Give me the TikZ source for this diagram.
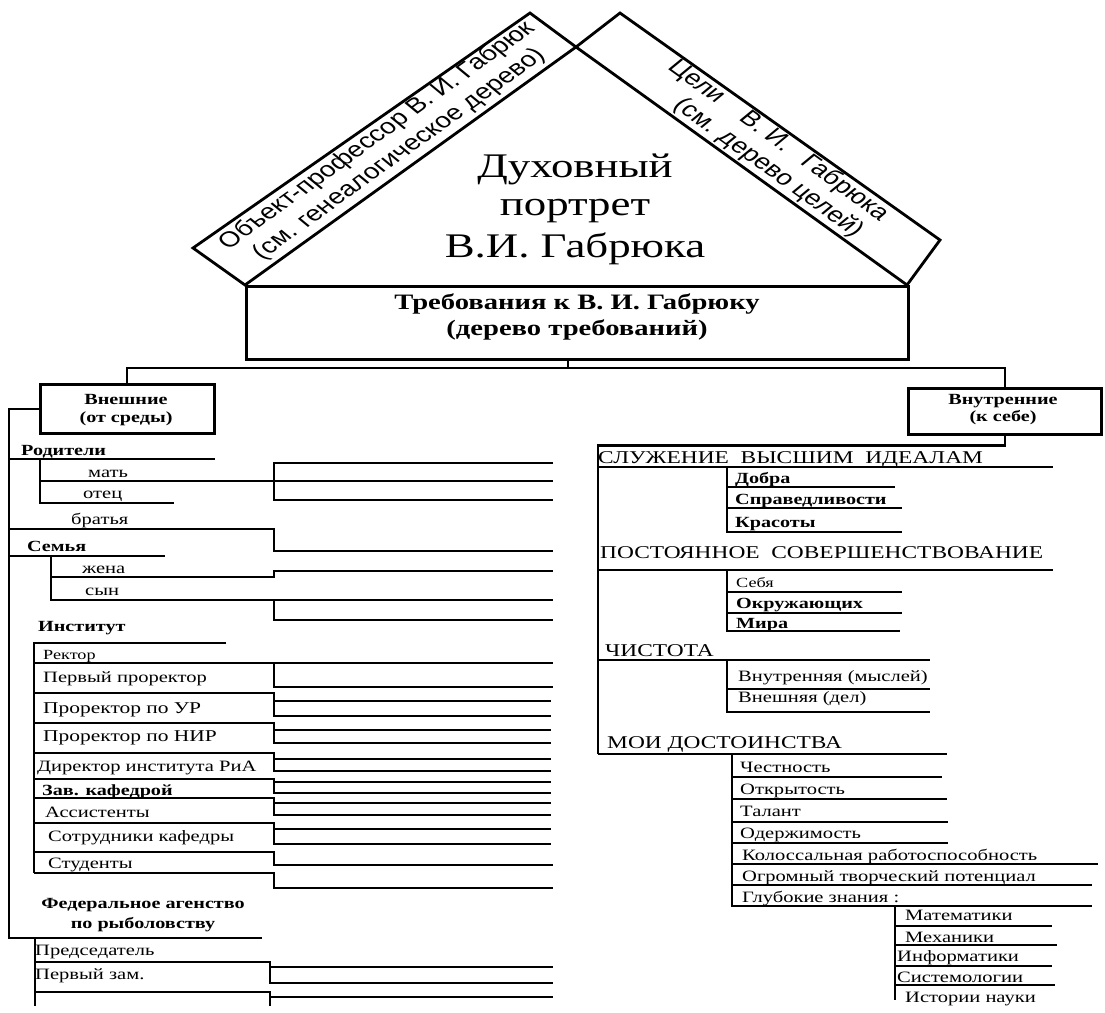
\documentclass[tikz,border=0pt]{standalone}
\usepackage{fontspec}
\setmainfont{Liberation Serif}[FakeStretch=1.3]
\newfontfamily\bandfont{Liberation Sans}
\begin{document}
\begin{tikzpicture}[x=1pt,y=-1pt,
  ln/.style={line width=2.2pt},
  thk/.style={line width=2.8pt},
  box/.style={draw, line width=2.5pt, inner sep=0pt},
  t/.style={anchor=base west, inner sep=0pt, font=\fontsize{15.8}{18}\selectfont},
  ts/.style={t, font=\fontsize{14}{16}\selectfont},
  tl/.style={t, font=\fontsize{16.5}{19}\selectfont},
  tb/.style={t, font=\bfseries\fontsize{15.5}{18}\selectfont},
  tbc/.style={tb, anchor=base},
  capt/.style={t, font=\fontsize{18}{20}\selectfont},
  big/.style={anchor=base, inner sep=0pt, font=\fontsize{34.5}{40}\selectfont},
  req/.style={anchor=base, inner sep=0pt, font=\bfseries\fontsize{22}{25}\selectfont},
  band/.style={anchor=center, inner sep=0pt, align=center, font=\bandfont\fontsize{21.5}{25}\selectfont}]
\fill[white] (0,0) rectangle (1105,1012);
\useasboundingbox (0,0) rectangle (1105,1012);

% roof
\coordinate (A) at (245,285);
\coordinate (B) at (193,248);
\coordinate (C) at (530,13);
\coordinate (D) at (576,47);
\coordinate (E) at (620,13);
\coordinate (F) at (940,240);
\coordinate (G) at (907,285);
\draw[thk, line join=miter] (A) -- (B) -- (C) -- (D) -- cycle;
\draw[thk, line join=miter] (D) -- (E) -- (F) -- (G) -- cycle;
\node[band, xscale=1.3, rotate=43] (bl) at (388,145) {Объект-профессор В. И. Габрюк\\(см. генеалогическое дерево)};
\node[band, xscale=1.3, rotate=-43] (br) at (767,150) {Цели\hspace{0.8em} В. И.\hspace{0.5em} Габрюка\\\hspace{1.2em}(см. дерево целей)};
\node[big] (t1) at (575,177) {Духовный};
\node[big] (t2) at (575,215) {портрет};
\node[big] (t3) at (575,257) {В.И. Габрюка};

% boxes
\node[box, minimum width=662pt, minimum height=73pt, anchor=north west] (req) at (245,285) {};
\node[req] (rq1) at (577,309) {Требования к В. И. Габрюку};
\node[req] (rq2) at (577,335) {(дерево требований)};
\node[box, minimum width=174pt, minimum height=49pt, anchor=north west] (ext) at (39,383) {};
\node[tbc] (ex1) at (126,404) {Внешние};
\node[tbc] (ex2) at (126,422) {(от среды)};
\node[box, minimum width=193pt, minimum height=46pt, anchor=north west] (int) at (907,387) {};
\node[tbc] (in1) at (1003,404) {Внутренние};
\node[tbc] (in2) at (1003,421) {(к себе)};

\coordinate (busM) at (568,368);
\draw[ln] (busM |- req.south) -- (busM);
\draw[ln] (ext.north) -- (ext.north |- busM) -- (int.north |- busM) -- (int.north);

% left tree
\draw[ln] (ext.west) -- ++(-30,0) -- (9,938) -- (262,938);
\draw[ln] (9,459) -- (215,459);
\draw[ln] (40,459) -- (40,503) -- (174,503);
\draw[ln] (40,481) -- (553,481);
\draw[ln] (553,463) -- (274,463) -- (274,500) -- (553,500);
\draw[ln] (9,529) -- (274,529) -- (274,551) -- (553,551);
\draw[ln] (9,556) -- (165,556);
\draw[ln] (51,556) -- (51,600) -- (553,600);
\draw[ln] (51,577) -- (274,577) -- (274,571) -- (553,571);
\draw[ln] (274,600) -- (274,620) -- (553,620);
\draw[ln] (226,643) -- (34,643) -- (34,873);
\draw[ln] (34,663) -- (553,663);
\draw[ln] (274,663) -- (274,687) -- (553,687);
\foreach \yt/\ya/\yb in {693/701/716, 723/730/743, 753/759/771, 779/782/793, 798/803/815, 823/829/844} {
  \draw[ln] (34,\yt) -- (274,\yt) -- (274,\yb) -- (551,\yb);
  \draw[ln] (274,\ya) -- (551,\ya);
}
\draw[ln] (34,852) -- (274,852) -- (274,865) -- (553,865);
\draw[ln] (34,873) -- (274,873) -- (274,888) -- (553,888);
\draw[ln] (35,938) -- (35,1006);
\draw[ln] (35,962) -- (270,962) -- (270,983) -- (553,983);
\draw[ln] (270,967) -- (553,967);
\draw[ln] (35,992) -- (270,992) -- (270,1006);
\draw[ln] (270,997) -- (553,997);

\node[tb] (l1) at (21,455) {Родители};
\node[t] (l2) at (88,477) {мать};
\node[t] (l3) at (83,498) {отец};
\node[t] (l4) at (71,524) {братья};
\node[tb] (l5) at (27,551) {Семья};
\node[t] (l6) at (82,573) {жена};
\node[t] (l7) at (85,595) {сын};
\node[tb] (l8) at (38,631) {Институт};
\node[ts] (l9) at (43,659) {Ректор};
\node[t] (l10) at (43,682) {Первый проректор};
\node[tl] (l11) at (43,713) {Проректор по УР};
\node[tl] (l12) at (43,741) {Проректор по НИР};
\node[t] (l13) at (37,771) {Директор института РиА};
\node[tb] (l14) at (42,795) {Зав. кафедрой};
\node[t] (l15) at (45,817) {Ассистенты};
\node[t] (l16) at (48,841) {Сотрудники кафедры};
\node[t] (l17) at (48,868) {Студенты};
\node[tbc] (l18) at (143,908) {Федеральное агенство};
\node[tbc] (l19) at (143,928) {по рыболовству};
\node[t] (l20) at (35,955) {Председатель};
\node[t] (l21) at (35,979) {Первый зам.};

% right tree
\draw[ln] (int.south) -- ++(0,10) -| (598,754);
\draw[ln] (598,467) -- (1053,467);
\draw[ln] (727,467) -- (727,532) -- (902,532);
\draw[ln] (727,487) -- (895,487);
\draw[ln] (727,508) -- (902,508);
\draw[ln] (598,570) -- (1053,570);
\draw[ln] (727,570) -- (727,631) -- (900,631);
\draw[ln] (727,592) -- (902,592);
\draw[ln] (727,613) -- (902,613);
\draw[ln] (598,660) -- (930,660);
\draw[ln] (727,660) -- (727,712) -- (930,712);
\draw[ln] (727,689) -- (930,689);
\draw[ln] (598,754) -- (947,754);
\draw[ln] (732,754) -- (732,906) -- (1092,906);
\draw[ln] (732,777) -- (942,777);
\draw[ln] (732,799) -- (947,799);
\draw[ln] (732,822) -- (948,822);
\draw[ln] (732,843) -- (948,843);
\draw[ln] (732,864) -- (1098,864);
\draw[ln] (732,885) -- (1092,885);
\draw[ln] (895,906) -- (895,1000);
\draw[ln] (895,926) -- (1052,926);
\draw[ln] (895,945) -- (1057,945);
\draw[ln] (895,966) -- (1052,966);
\draw[ln] (895,985) -- (1055,985);

\node[capt] (r1) at (598,463) {СЛУЖЕНИЕ~~ВЫСШИМ~~ИДЕАЛАМ};
\node[tb] (r2) at (735,483) {Добра};
\node[tb] (r3) at (735,504) {Справедливости};
\node[tb] (r4) at (735,527) {Красоты};
\node[capt] (r5) at (600,558) {ПОСТОЯННОЕ~~СОВЕРШЕНСТВОВАНИЕ};
\node[ts] (r6) at (736,587) {Себя};
\node[tb] (r7) at (736,608) {Окружающих};
\node[tb] (r8) at (736,628) {Мира};
\node[capt] (r9) at (605,656) {ЧИСТОТА};
\node[t] (r10) at (738,681) {Внутренняя (мыслей)};
\node[t] (r11) at (738,702) {Внешняя (дел)};
\node[capt] (r12) at (607,748) {МОИ ДОСТОИНСТВА};
\node[t] (r13) at (740,772) {Честность};
\node[t] (r14) at (740,794) {Открытость};
\node[t] (r15) at (740,816) {Талант};
\node[t] (r16) at (740,838) {Одержимость};
\node[t] (r17) at (742,860) {Колоссальная работоспособность};
\node[t] (r18) at (742,881) {Огромный творческий потенциал};
\node[t] (r19) at (742,902) {Глубокие знания :};
\node[t] (r20) at (905,920) {Математики};
\node[t] (r21) at (905,942) {Механики};
\node[t] (r22) at (897,961) {Информатики};
\node[t] (r23) at (897,982) {Системологии};
\node[t] (r24) at (905,1002) {Истории науки};
\end{tikzpicture}
\end{document}
